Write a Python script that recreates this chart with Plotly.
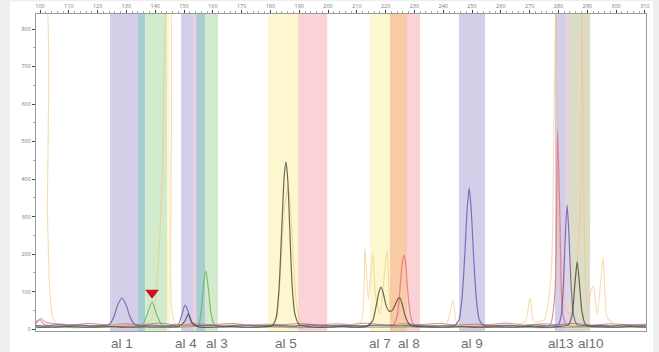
import plotly.graph_objects as go

# ---------------- data (bp on x, RFU on y) ----------------
bp_ticks = list(range(100, 311, 10))
rfu_ticks = list(range(0, 801, 100))

# coloured bins: (start bp, end bp, colour name)
bin_starts = [124.3, 134.0, 136.5, 144.1, 149.0, 153.2, 154.5, 157.3, 179.2, 189.6, 214.6, 221.5, 227.4, 245.5, 278.8, 282.3, 284.0]
bin_ends   = [134.0, 136.5, 144.1, 145.1, 154.5, 153.8, 157.3, 161.8, 189.6, 199.7, 221.5, 227.4, 231.9, 254.5, 282.3, 284.0, 291.0]
bin_kinds  = ["lav", "teal", "green", "yel", "lav", "pink", "teal", "green", "yel", "pink", "yel", "orange", "pink", "lav", "lav", "mauve", "khaki"]

purple_pts = [(98.6,10),(102,8),(106,12),(110,9),(114,11),(118,8),(121,10),(124,12),(125.5,30),(127,65),(128.5,83),
              (130,62),(131.5,28),(133,12),(135,9),(139,11),(143,8),(146,10),(148,12),(149.3,40),(150.3,64),
              (151.3,50),(152.5,18),(154,10),(159,10),(164,8),(170,11),(176,9),(182,10),(188,8),(194,12),(200,9),
              (206,10),(212,8),(218,11),(224,9),(230,10),(236,8),(241,9),(244,10),(245.5,25),(246.5,80),(247.5,200),
              (248.3,320),(249,376),(249.7,320),(250.5,200),(251.5,80),(252.5,25),(254,10),(257,9),(262,10),(267,8),
              (272,11),(276,9),(280,12),(281,40),(281.8,130),(282.5,270),(283,331),(283.6,260),(284.3,130),
              (285.2,40),(286.5,12),(290,9),(294,10),(298,8),(302,11),(306,9),(310.4,10)]

dark_pts = [(98.6,6),(104,5),(110,7),(118,5),(125,7),(130,5),(136,6),(142,5),(148,7),(150.2,20),(151.5,40),
            (152.8,18),(155,6),(160,5),(166,7),(172,5),(177,6),(180.5,9),(182,30),(183,110),(184,280),(184.8,410),
            (185.4,445),(186,400),(186.7,270),(187.5,120),(188.5,40),(190,12),(194,6),(200,5),(205,7),(210,5),
            (213.5,8),(215.5,22),(216.8,65),(217.7,100),(218.4,112),(219.2,95),(220.2,62),(221.2,48),(222.3,50),
            (223.6,70),(224.4,82),(225,83),(225.8,65),(226.8,35),(228,15),(229.5,8),(234,6),(240,5),(246,7),
            (252,5),(258,6),(264,5),(270,7),(276,5),(281,8),(283.5,12),(284.8,40),(285.6,110),(286.5,179),
            (287.3,120),(288.1,50),(289.2,15),(290.5,8),(295,6),(300,5),(305,7),(310.4,5)]

green_pts = [(98.6,4),(105,6),(112,4),(120,6),(128,5),(133,7),(135.5,10),(137,35),(138.9,72),(140.7,35),
             (142.2,12),(145,6),(149,5),(153,7),(155,10),(156,50),(156.8,120),(157.6,155),(158.4,110),(159.3,45),
             (160.5,12),(163,6),(170,5),(180,6),(190,4),(200,6),(215,5),(230,6),(245,5),(260,6),(275,4),(290,6),(310.4,5)]

red_pts = [(98.6,15),(100,25),(101.5,12),(105,8),(115,10),(125,7),(135,9),(145,7),(155,10),(165,8),(175,9),
           (185,7),(195,9),(205,8),(215,10),(222.5,10),(224,35),(225,110),(225.8,180),(226.4,197),(227,170),
           (227.8,90),(228.8,30),(230,10),(240,9),(250,7),(260,9),(270,8),(277,10),(278.8,100),(279.7,530),
           (280.5,300),(281.5,40),(283,10),(290,8),(300,9),(310.4,7)]

yellow_pts = [(98.6,900),(101.6,900),(102.6,300),(103.5,90),(104.5,30),(106,12),(115,10),(125,12),(135,10),
              (139,30),(140.8,150),(142.5,420),(144.2,900),(145,900),(145.6,60),(147,15),(155,10),(165,12),
              (175,10),(181,15),(182.8,80),(184,220),(185,330),(186.2,380),(187.2,300),(188.2,150),(189.3,50),
              (191,12),(200,10),(208,12),(211.5,20),(212.8,215),(214,80),(215.5,200),(216.5,90),(218,40),
              (220.5,210),(221.5,60),(223,15),(232,10),(241,12),(243.4,77),(245,12),(255,10),(265,12),(268.5,20),
              (270.1,83),(271.5,20),(275,25),(277.5,150),(278.5,600),(279.2,900),(280,300),(281,80),(284,40),
              (287.5,300),(288.2,900),(288.9,300),(290,60),(292,117),(293.5,40),(295.5,190),(297,30),(300,12),
              (310.4,10)]

base_pts = [(98.6,20),(100.5,28),(102,18),(106,14),(112,12),(117,15),(124,11),(129,14),(136,12),(141,16),
            (148,11),(153,14),(160,12),(167,15),(172,11),(179,13),(184,12),(191,15),(196,11),(203,14),(208,12),
            (213,16),(220,11),(227,14),(232,12),(239,15),(244,11),(251,13),(256,12),(262,16),(268,11),(275,14),
            (280,12),(285,15),(292,11),(298,14),(304,12),(310.4,13)]

allele_labels = ["al 1", "al 4", "al 3", "al 5", "al 7", "al 8", "al 9", "al13", "al10"]
allele_bp     = [128.5, 150.6, 161.4, 185.4, 218.1, 228.2, 250.1, 280.8, 291.2]

arrow_peak_bp = 138.9
arrow_peak_rfu = 72

# ---------------- styling ----------------
bin_colours = {"lav": "#d4cee9", "teal": "#a7ced0", "green": "#d3ebcd", "yel": "#fdf7d0",
               "pink": "#fbd3d7", "orange": "#f8caa6", "mauve": "#e4d4e0", "khaki": "#dcdcc7"}

XMIN, XMAX = 98.6, 310.4
YMIN, YMAX = -5, 840

fig = go.Figure()

def add_trace(pts, colour, width=1.2):
    fig.add_trace(go.Scatter(x=[p[0] for p in pts], y=[p[1] for p in pts], mode="lines",
                             line=dict(color=colour, width=width, shape="spline", smoothing=0.6),
                             hoverinfo="skip", showlegend=False))

add_trace(base_pts, "rgba(175,105,85,0.75)", 1.0)
add_trace(yellow_pts, "rgba(242,196,120,0.6)", 1.1)
add_trace(green_pts, "rgba(110,180,95,0.85)")
add_trace(red_pts, "rgba(230,110,125,0.8)")
add_trace(purple_pts, "rgba(105,95,175,0.85)")
add_trace(dark_pts, "rgba(80,80,60,0.85)")

fig.add_trace(go.Scatter(x=[arrow_peak_bp], y=[arrow_peak_rfu + 25], mode="markers",
                         marker=dict(symbol="triangle-down", size=12, color="#cc1020"),
                         hoverinfo="skip", showlegend=False))

shapes = [dict(type="rect", xref="paper", yref="paper", x0=-26/610, x1=617/610, y0=-0.08, y1=1.04,
               fillcolor="white", line=dict(width=0), layer="below")]
for s, e, k in zip(bin_starts, bin_ends, bin_kinds):
    shapes.append(dict(type="rect", xref="x", yref="paper", x0=s, x1=e, y0=0, y1=1,
                       fillcolor=bin_colours[k], line=dict(width=0), layer="below"))

annotations = []
for lab, b in zip(allele_labels, allele_bp):
    annotations.append(dict(x=b, y=-0.038, xref="x", yref="paper", text=lab, showarrow=False,
                            xanchor="center", yanchor="middle",
                            font=dict(family="Liberation Sans, Arial", size=13.5, color="#707070")))

fig.update_layout(
    width=659, height=352,
    margin=dict(l=36, r=13, t=14, b=21, autoexpand=False),
    paper_bgcolor="#efefef", plot_bgcolor="white",
    shapes=shapes, annotations=annotations,
    xaxis=dict(range=[XMIN, XMAX], side="top", tickvals=bp_ticks, ticks="outside", ticklen=3,
               tickfont=dict(size=5.5, color="#777"), showgrid=False, zeroline=False, automargin=False,
               showline=True, linecolor="#999", linewidth=1, mirror=True,
               minor=dict(dtick=2, ticks="outside", ticklen=2, tickcolor="#aaa")),
    yaxis=dict(range=[YMIN, YMAX], tickvals=rfu_ticks, ticks="outside", ticklen=3, automargin=False,
               tickfont=dict(size=5.5, color="#777"), showgrid=False, zeroline=False,
               showline=True, linecolor="#999", linewidth=1, mirror=True,
               minor=dict(dtick=50, ticks="outside", ticklen=2, tickcolor="#aaa")),
)

fig.write_html("out.html", config={"displayModeBar": False},
               post_script="document.body.style.margin='0';document.body.style.overflow='hidden';"
                           "document.body.style.background='#efefef';")
